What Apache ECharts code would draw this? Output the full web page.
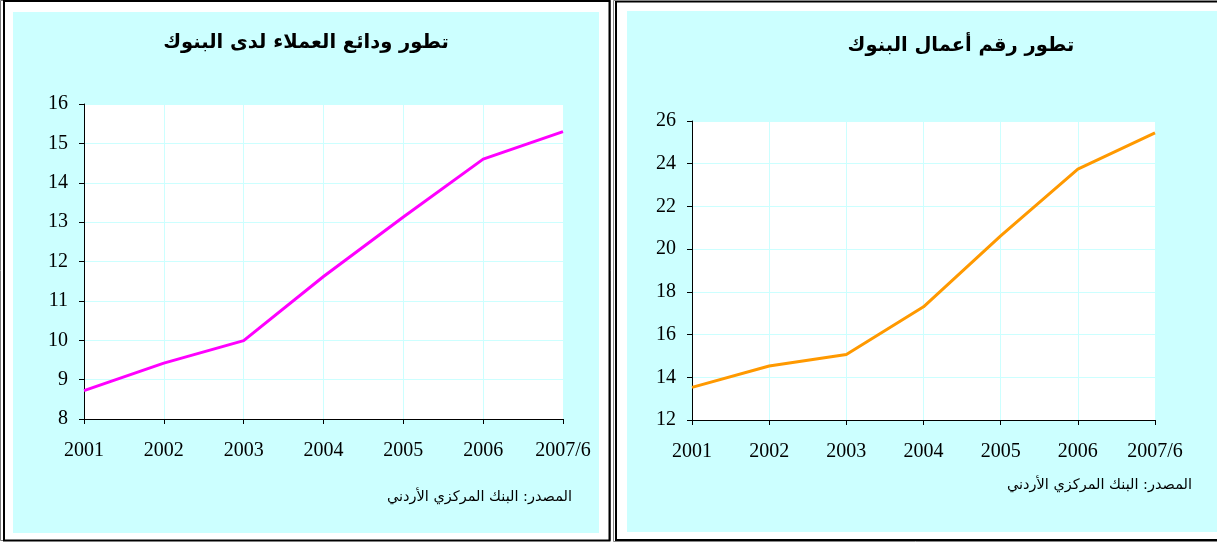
<!DOCTYPE html>
<html>
<head>
<meta charset="utf-8">
<script src="https://cdn.jsdelivr.net/npm/echarts@6/dist/echarts.min.js"></script>
<style>
html,body{margin:0;padding:0;background:#fff;}
#c{width:1217px;height:542px;}
</style>
</head>
<body>
<div id="c"></div>
<script>
const categories = ['2001','2002','2003','2004','2005','2006','2007/6'];
const depositsValues = [8.72, 9.42, 9.99, 11.62, 13.13, 14.6, 15.3];
const turnoverValues = [13.53, 14.53, 15.07, 17.3, 20.62, 23.75, 25.44];
const depositsTicks = { min: 8, max: 16, interval: 1 };
const turnoverTicks = { min: 12, max: 26, interval: 2 };
const titleLeft = 'تطور ودائع العملاء لدى البنوك';
const titleRight = 'تطور رقم أعمال البنوك';
const sourceText = 'المصدر: البنك المركزي الأردني';

const serif = '"Liberation Serif", "Times New Roman", serif';
const arab = '"DejaVu Sans", "Noto Sans", sans-serif';
const cyan = '#CCFFFF';

function xAxis(gi){
  return {
    type:'category', gridIndex:gi, data:categories, boundaryGap:false,
    axisLine:{show:true,lineStyle:{color:'#000',width:1}},
    axisTick:{show:true,length:5,lineStyle:{color:'#000'}},
    axisLabel:{color:'#000',fontFamily:serif,fontSize:20,margin:22,interval:0},
    splitLine:{show:true,lineStyle:{color:cyan,width:1}}
  };
}
function yAxis(gi,t){
  return {
    type:'value', gridIndex:gi, min:t.min, max:t.max, interval:t.interval,
    axisLine:{show:true,lineStyle:{color:'#000',width:1}},
    axisTick:{show:true,length:5,lineStyle:{color:'#000'}},
    axisLabel:{color:'#000',fontFamily:serif,fontSize:20,margin:16},
    splitLine:{show:true,lineStyle:{color:cyan,width:1}}
  };
}

const chart = echarts.init(document.getElementById('c'), null, {renderer:'canvas'});
chart.setOption({
  animation:false,
  backgroundColor:'#fff',
  graphic:[
    {type:'rect', z:-100, shape:{x:0,y:0,width:611,height:542}, style:{fill:'#fff',stroke:null}},
    {type:'rect', z:-99, shape:{x:13,y:12,width:586,height:521}, style:{fill:cyan}},
    {type:'rect', z:-99, shape:{x:627,y:11,width:590,height:521}, style:{fill:cyan}},
    {type:'rect', z:-98, shape:{x:0.5,y:0.5,width:610,height:540}, style:{fill:null,stroke:'#777',lineWidth:1}},
    {type:'rect', z:-98, shape:{x:4,y:1,width:605.5,height:539.5}, style:{fill:null,stroke:'#000',lineWidth:2}},
    {type:'rect', z:-98, shape:{x:616,y:1.5,width:610,height:538.5}, style:{fill:null,stroke:'#000',lineWidth:2}},
    {type:'rect', z:-98, shape:{x:613.5,y:0.5,width:610,height:541}, style:{fill:null,stroke:'#888',lineWidth:1}}
  ],
  title:[
    {text:titleLeft, left:301, top:28, textAlign:'center',
     textStyle:{fontFamily:arab,fontWeight:'bold',fontSize:19.5,color:'#000'}},
    {text:titleRight, left:956, top:31, textAlign:'center',
     textStyle:{fontFamily:arab,fontWeight:'bold',fontSize:19.5,color:'#000'}},
    {text:sourceText, left:567, top:485, textAlign:'right',
     textStyle:{fontFamily:arab,fontWeight:'normal',fontSize:14.5,color:'#000'}},
    {text:sourceText, left:1187, top:473, textAlign:'right',
     textStyle:{fontFamily:arab,fontWeight:'normal',fontSize:14.5,color:'#000'}}
  ],
  grid:[
    {left:84, top:104, width:479, height:315, show:true, backgroundColor:'#fff', borderWidth:0, containLabel:false},
    {left:692, top:121, width:463, height:299, show:true, backgroundColor:'#fff', borderWidth:0, containLabel:false}
  ],
  xAxis:[xAxis(0), xAxis(1)],
  yAxis:[yAxis(0,depositsTicks), yAxis(1,turnoverTicks)],
  series:[
    {type:'line', xAxisIndex:0, yAxisIndex:0, data:depositsValues, showSymbol:false, symbol:'none',
     lineStyle:{color:'#FF00FF',width:3}, itemStyle:{color:'#FF00FF'}},
    {type:'line', xAxisIndex:1, yAxisIndex:1, data:turnoverValues, showSymbol:false, symbol:'none',
     lineStyle:{color:'#FF9900',width:3}, itemStyle:{color:'#FF9900'}}
  ]
});
</script>
</body>
</html>
